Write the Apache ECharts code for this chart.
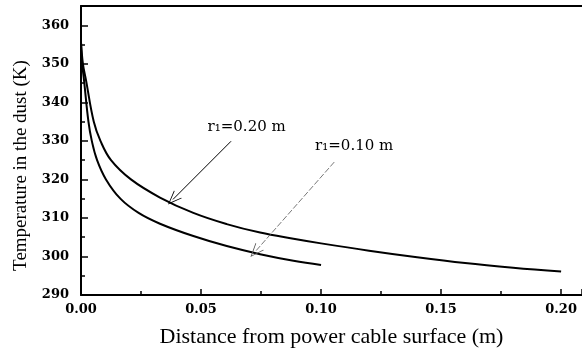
<!DOCTYPE html>
<html>
<head>
<meta charset="utf-8">
<script src="https://cdn.jsdelivr.net/npm/echarts@6/dist/echarts.min.js"></script>
<style>
  html, body { margin: 0; padding: 0; background: #fff; }
  #chart { width: 582px; height: 355px; }
</style>
</head>
<body>
<div id="chart"></div>
<script>
// distance from cable surface (m) and dust temperature (K), r1 = 0.20 m
const r020X = [0, 0.0008, 0.0021, 0.0053, 0.0081, 0.0125, 0.0208, 0.0329, 0.0468, 0.0607, 0.0746, 0.0885, 0.100, 0.120, 0.140, 0.160, 0.180, 0.200];
const r020T = [355.5, 350.0, 345.7, 335.0, 330.0, 325.0, 320.0, 315.3, 311.3, 308.4, 306.2, 304.6, 303.4, 301.5, 299.8, 298.3, 297.1, 296.1];

// r1 = 0.10 m
const r010X = [0, 0.0005, 0.0013, 0.0031, 0.0045, 0.0067, 0.0104, 0.0164, 0.0240, 0.0329, 0.0468, 0.0607, 0.0746, 0.0885, 0.100];
const r010T = [355.5, 350.0, 345.5, 335.0, 330.0, 325.0, 320.0, 315.0, 311.3, 308.5, 305.3, 302.7, 300.6, 298.9, 297.8];

const yTicks = [290, 300, 310, 320, 330, 340, 350, 360];
const xTicks = [0, 0.05, 0.10, 0.15, 0.20];

// callouts: label position, arrow start, arrow tip (data coords)
const label020 = [0.069, 333.5];
const arrow020 = [[0.0625, 329.9], [0.0383, 314.8]];
const label010 = [0.1138, 328.6];
const arrow010 = [[0.1055, 324.5], [0.0725, 301.2]];

const zip = (xs, ys) => xs.map((x, i) => [x, ys[i]]);

const chart = echarts.init(document.getElementById('chart'));

const tickFont = { fontFamily: 'DejaVu Serif', fontSize: 13, fontWeight: 'bold', color: '#000' };
// open "V" arrow head
const chevron = 'path://M0,10 L5,0 L10,10 L9.2,10 L5,1.6 L0.8,10 Z';

const callout = (pos, arrow, text, lineStyle) => ({
  markPoint: {
    silent: true,
    symbol: 'circle',
    symbolSize: 1,
    itemStyle: { color: 'rgba(0,0,0,0)' },
    label: {
      show: true, position: 'inside', formatter: text,
      fontFamily: 'DejaVu Serif', fontSize: 15, color: '#000'
    },
    data: [{ coord: pos }]
  },
  markLine: {
    silent: true,
    symbol: ['none', chevron],
    symbolSize: [11, 14],
    label: { show: false },
    lineStyle: lineStyle,
    data: [[{ coord: arrow[0] }, { coord: arrow[1] }]]
  }
});

chart.setOption({
  animation: false,
  grid: { left: 81, right: 0, top: 6, bottom: 60 },
  xAxis: [{
    type: 'value',
    min: 0, max: 0.2087, interval: 0.05,
    name: 'Distance from power cable surface (m)',
    nameLocation: 'middle', nameGap: 31,
    nameTextStyle: { fontFamily: 'Liberation Serif', fontSize: 22, color: '#000' },
    axisLine: { show: true, lineStyle: { color: '#000', width: 2 } },
    axisTick: { inside: true, length: 6, lineStyle: { color: '#000', width: 1.5 } },
    minorTick: { show: true, splitNumber: 2, length: 4, lineStyle: { color: '#000', width: 1.5 } },
    splitLine: { show: false },
    axisLabel: Object.assign({ margin: 8, showMaxLabel: false,
      formatter: v => xTicks.some(t => Math.abs(t - v) < 1e-9) ? v.toFixed(2) : '' }, tickFont)
  }, {
    type: 'value', position: 'top',
    min: 0, max: 0.2087,
    axisLine: { show: true, onZero: false, lineStyle: { color: '#000', width: 2 } },
    axisTick: { show: false }, axisLabel: { show: false }, splitLine: { show: false }
  }],
  yAxis: {
    type: 'value',
    min: 290, max: 365, interval: 10,
    name: 'Temperature in the dust (K)',
    nameLocation: 'middle', nameGap: 50,
    nameTextStyle: { fontFamily: 'Liberation Serif', fontSize: 19, color: '#000', padding: [0, 30, 0, 0] },
    axisLine: { show: true, lineStyle: { color: '#000', width: 2 } },
    axisTick: { inside: true, length: 7, lineStyle: { color: '#000', width: 1.5 } },
    minorTick: { show: true, splitNumber: 2, length: 4, lineStyle: { color: '#000', width: 1.5 } },
    splitLine: { show: false },
    axisLabel: Object.assign({ margin: 12, showMaxLabel: false,
      formatter: v => yTicks.includes(v) ? String(v) : '' }, tickFont)
  },
  series: [
    Object.assign({
      name: 'r1=0.20 m',
      type: 'line',
      data: zip(r020X, r020T),
      smooth: 0.4,
      showSymbol: false,
      lineStyle: { color: '#000', width: 2 }
    }, callout(label020, arrow020, 'r\u2081=0.20 m', { color: '#000', width: 1, type: 'solid' })),
    Object.assign({
      name: 'r1=0.10 m',
      type: 'line',
      data: zip(r010X, r010T),
      smooth: 0.4,
      showSymbol: false,
      lineStyle: { color: '#000', width: 2 }
    }, callout(label010, arrow010, 'r\u2081=0.10 m', { color: '#555', width: 0.8, type: [6, 2] }))
  ]
});
</script>
</body>
</html>
